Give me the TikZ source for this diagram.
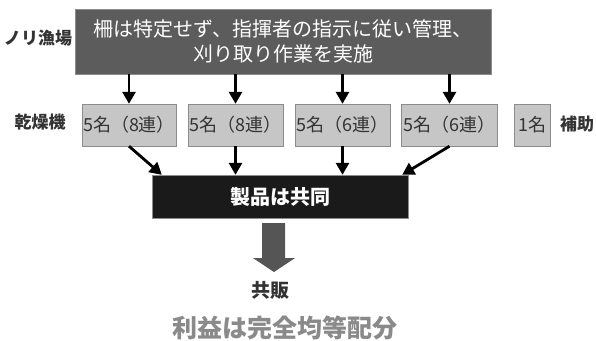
\documentclass[tikz,border=0pt]{standalone}
\usepackage{fontspec}
\setmainfont{Noto Sans CJK JP}
\usepackage{tikz}
\usetikzlibrary{arrows.meta}
\definecolor{fieldgray}{HTML}{5C5C5C}
\definecolor{dryergray}{HTML}{C6C6C6}
\definecolor{edgegray}{HTML}{8C8C8C}
\definecolor{darktext}{HTML}{333333}
\definecolor{prodblack}{HTML}{1A1A1A}
\definecolor{arrowgray}{HTML}{555555}
\definecolor{profitgray}{HTML}{8A8A8A}

\begin{document}
\begin{tikzpicture}[x=1pt, y=-1pt,
  every node/.style = {inner sep=0pt, align=center},
  fieldbox/.style = {draw=edgegray, fill=fieldgray, text=white, minimum width=416pt,
    minimum height=65pt, font=\fontsize{20}{25}\selectfont},
  dryer/.style = {draw=edgegray, fill=dryergray, text=darktext, minimum height=42pt,
    font=\fontsize{18}{20}\selectfont},
  prodbox/.style = {draw=edgegray, fill=prodblack, text=white, minimum width=256pt,
    minimum height=43pt, font=\fontsize{20}{22}\selectfont\bfseries},
  sidelabel/.style = {text=darktext, font=\fontsize{17}{20}\selectfont\bfseries},
  arr/.style = {line width=2.8pt, -{Triangle[width=13pt,length=12pt]}}]
  \useasboundingbox (0,0) rectangle (596,340);

  % field and dryers
  \node[fieldbox] (field) at (283,41.5) {柵は特定せず、指揮者の指示に従い管理、\\刈り取り作業を実施};
  \node[dryer, minimum width=94pt] (d1) at (129,125) {5名（8連）};
  \node[dryer, minimum width=95pt] (d2) at (235.5,125) {5名（8連）};
  \node[dryer, minimum width=95pt] (d3) at (342.5,125) {5名（6連）};
  \node[dryer, minimum width=96pt] (d4) at (449.5,125) {5名（6連）};
  \node[dryer, minimum width=36pt] (d5) at (532,125) {1名};
  \node[prodbox] (prod) at (280,196.5) {製品は共同};

  % side labels
  \node[sidelabel] (fieldlbl) at (38,38) {ノリ漁場};
  \node[sidelabel] (dryerlbl) at (40,122) {乾燥機};
  \node[sidelabel] (helplbl) at (577,124) {補助};

  \foreach \d in {d1,d2,d3,d4}
    \draw[arr] (field.south -| \d.north) -- (\d.north);
  \draw[arr] (d1.south) -- ([xshift=10pt]prod.north west);
  \draw[arr] (d2.south) -- (d2.south |- prod.north);
  \draw[arr] (d3.south) -- (d3.south |- prod.north);
  \draw[arr] (d4.south) -- ([xshift=-6pt]prod.north east);

  % block arrow to sales
  \fill[arrowgray] (262,223) -- (285,223) -- (285,258) -- (295,258) -- (274,272)
    -- (253,258) -- (262,258) -- cycle;
  \node[sidelabel, font=\fontsize{19}{22}\selectfont\bfseries] (sales) at (270,290) {共販};
  \node[text=profitgray, font=\fontsize{25}{28}\selectfont\bfseries] (profit) at (285,328) {利益は完全均等配分};
\end{tikzpicture}
\end{document}
